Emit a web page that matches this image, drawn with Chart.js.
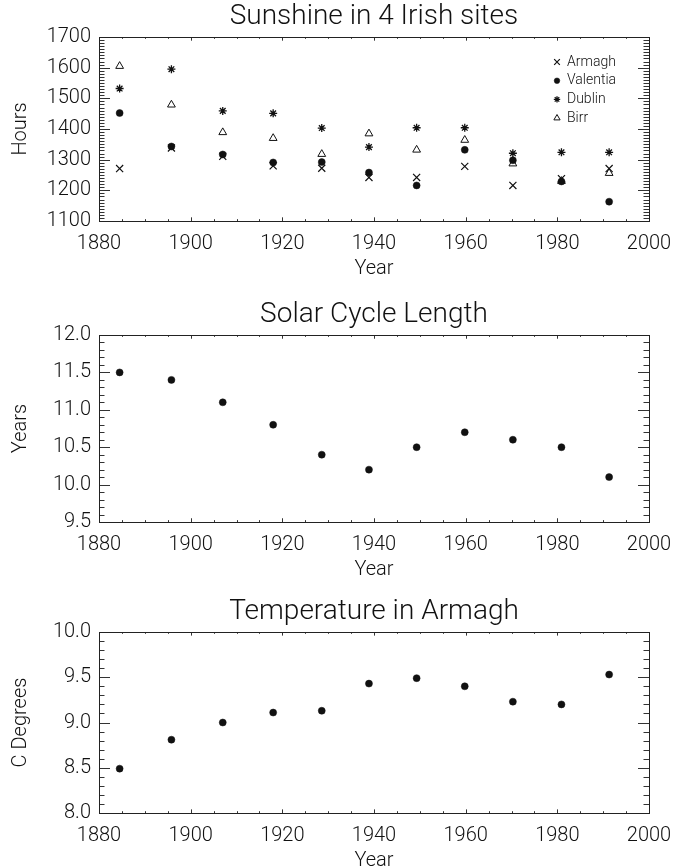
<!DOCTYPE html>
<html>
<head>
<meta charset="utf-8">
<title>Sunshine, solar cycle length and temperature</title>
<script src="https://cdn.jsdelivr.net/npm/chart.js@4"></script>
<style>
  body { margin: 0; background: #fff; width: 676px; height: 867px; overflow: hidden; position: relative; }
  .panel { position: absolute; left: 0; width: 676px; }
</style>
</head>
<body>
<div class="panel" style="top:0;height:281px"><canvas id="sunshine"></canvas></div>
<div class="panel" style="top:298px;height:284px"><canvas id="cycle"></canvas></div>
<div class="panel" style="top:595px;height:278px"><canvas id="temperature"></canvas></div>
<script>
// epoch midpoints (years) shared by the three panels
const years = [1884.5, 1895.8, 1907.0, 1918.0, 1928.6, 1938.9, 1949.3, 1959.8, 1970.3, 1980.9, 1991.3];

// sunshine hours
const armagh   = [1271, 1338, 1311, 1280, 1272, 1242, 1242, 1278, 1216, 1238, 1271];
const valentia = [1452, 1343, 1317, 1291, 1292, 1258, 1216, 1332, 1298, 1229, 1163];
const dublin   = [1532, 1595, 1459, 1451, 1403, 1341, 1404, 1404, 1321, 1324, 1324];
const birr     = [1605, 1479, 1389, 1370, 1318, 1385, 1332, 1364, 1287, 1230, 1256];

// solar cycle length (years) and Armagh temperature (C)
const cycleLength = [11.5, 11.4, 11.1, 10.8, 10.4, 10.2, 10.5, 10.7, 10.6, 10.5, 10.1];
const armaghTemp  = [8.49, 8.81, 9.00, 9.11, 9.13, 9.43, 9.49, 9.40, 9.23, 9.20, 9.53];

// tick labels
const yearTicks  = [1880, 1900, 1920, 1940, 1960, 1980, 2000];
const hoursTicks = [1100, 1200, 1300, 1400, 1500, 1600, 1700];
const cycleTicks = [9.5, 10.0, 10.5, 11.0, 11.5, 12.0];
const tempTicks  = [8.0, 8.5, 9.0, 9.5, 10.0];

const INK = "#111";
const FONT = "Roboto, 'DejaVu Sans', sans-serif";

// frame with inward major/minor ticks on all four sides (IDL style)
function boxPlugin(xMinor, yMinor) {
    return {
        id: "idlBox",
        afterDraw(chart) {
            const ctx = chart.ctx;
            const a = chart.chartArea;
            const x = chart.scales.x, y = chart.scales.y;
            const xLen = (a.bottom - a.top) * 0.02;
            const yLen = (a.right - a.left) * 0.02;
            const yMajor = y.ticks.map(t => t.value);
            const isMajor = (list, v) => list.some(t => Math.abs(t - v) < 1e-6);
            ctx.save();
            ctx.strokeStyle = "#333";
            ctx.lineWidth = 1;
            ctx.beginPath();
            const nx = Math.round((x.max - x.min) / xMinor);
            for (let i = 0; i <= nx; i++) {
                const v = x.min + i * xMinor;
                const len = isMajor(yearTicks, v) ? xLen : xLen / 2;
                const px = Math.round(x.getPixelForValue(v)) + 0.5;
                ctx.moveTo(px, a.bottom); ctx.lineTo(px, a.bottom - len);
                ctx.moveTo(px, a.top); ctx.lineTo(px, a.top + len);
            }
            const ny = Math.round((y.max - y.min) / yMinor);
            for (let i = 0; i <= ny; i++) {
                const v = y.min + i * yMinor;
                const len = isMajor(yMajor, v) ? yLen : yLen / 2;
                const py = Math.round(y.getPixelForValue(v)) + 0.5;
                ctx.moveTo(a.left, py); ctx.lineTo(a.left + len, py);
                ctx.moveTo(a.right, py); ctx.lineTo(a.right - len, py);
            }
            ctx.stroke();
            ctx.strokeStyle = "#222";
            ctx.strokeRect(Math.round(a.left) + 0.5, Math.round(a.top) + 0.5,
                Math.round(a.right - a.left), Math.round(a.bottom - a.top));
            ctx.restore();
        }
    };
}

// small legend in the upper right corner of the plot
const legendPlugin = {
    id: "idlLegend",
    afterDatasetsDraw(chart, args, opts) {
        if (!opts.show) return;
        const { ctx, chartArea: a } = chart;
        ctx.save();
        ctx.font = "300 14px " + FONT;
        ctx.textBaseline = "middle";
        chart.data.datasets.forEach((ds, i) => {
            const px = a.right - 92, py = a.top + 25 + i * 18.7;
            ctx.fillStyle = ds.backgroundColor;
            ctx.strokeStyle = ds.borderColor;
            ctx.lineWidth = ds.borderWidth;
            Chart.helpers.drawPoint(ctx, {
                pointStyle: ds.pointStyle,
                radius: ds.pointRadius * 0.8,
                rotation: 0,
                borderWidth: ds.borderWidth
            }, px, py);
            ctx.fillStyle = INK;
            ctx.fillText(ds.label, px + 10, py);
        });
        ctx.restore();
    }
};

function makePanel(id, title, yTitle, yTicks, yMin, yMax, yMinor, decimals, datasets, legend) {
    new Chart(document.getElementById(id), {
        type: "scatter",
        data: { datasets: datasets },
        plugins: [boxPlugin(5, yMinor), legendPlugin],
        options: {
            responsive: true,
            maintainAspectRatio: false,
            animation: false,
            layout: { padding: { left: 0, right: 27, top: 0, bottom: 0 } },
            plugins: {
                legend: { display: false },
                tooltip: { enabled: false },
                title: {
                    display: true,
                    fullSize: false,
                    text: title,
                    color: INK,
                    font: { family: FONT, size: 28, weight: 300 },
                    padding: { top: 0, bottom: 3.4 }
                },
                idlLegend: { show: legend }
            },
            scales: {
                x: {
                    type: "linear",
                    min: 1880,
                    max: 2000,
                    afterBuildTicks: s => { s.ticks = yearTicks.map(v => ({ value: v })); },
                    afterFit: s => { s.height = 60; s.paddingLeft = 0; s.paddingRight = 0; },
                    grid: { display: false, drawTicks: false },
                    border: { display: false },
                    ticks: {
                        color: INK, padding: 11, maxRotation: 0,
                        font: { family: FONT, size: 20, weight: 300 },
                        callback: v => String(v)
                    },
                    title: { display: true, text: "Year", color: INK, padding: 0, font: { family: FONT, size: 20, weight: 300 } }
                },
                y: {
                    type: "linear",
                    min: yMin,
                    max: yMax,
                    afterBuildTicks: s => { s.ticks = yTicks.map(v => ({ value: v })); },
                    afterFit: s => { s.width = 99; s.paddingTop = 0; s.paddingBottom = 0; },
                    grid: { display: false, drawTicks: false },
                    border: { display: false },
                    ticks: {
                        color: INK, padding: 8,
                        font: { family: FONT, size: 20, weight: 300 },
                        callback: v => v.toFixed(decimals)
                    },
                    title: { display: true, text: yTitle, color: INK, padding: { top: 9, bottom: 0 }, font: { family: FONT, size: 20, weight: 300 } }
                }
            }
        }
    });
}

function series(label, ys, style, radius, width, fill) {
    return {
        label: label,
        data: years.map((yr, i) => ({ x: yr, y: ys[i] })),
        pointStyle: style,
        pointRadius: radius,
        borderWidth: width,
        borderColor: INK,
        backgroundColor: fill,
        showLine: false
    };
}

makePanel("sunshine", "Sunshine in 4 Irish sites", "Hours", hoursTicks, 1100, 1700, 10, 0, [
    series("Armagh", armagh, "crossRot", 5, 1.2, INK),
    series("Valentia", valentia, "circle", 3.5, 0.5, INK),
    series("Dublin", dublin, "star", 4, 1.3, INK),
    series("Birr", birr, "triangle", 4.5, 1, "rgba(0,0,0,0)")
], true);

makePanel("cycle", "Solar Cycle Length", "Years", cycleTicks, 9.5, 12.0, 0.1, 1, [
    series("Solar cycle length", cycleLength, "circle", 3.5, 0.5, INK)
], false);

makePanel("temperature", "Temperature in Armagh", "C Degrees", tempTicks, 8.0, 10.0, 0.1, 1, [
    series("Temperature", armaghTemp, "circle", 3.5, 0.5, INK)
], false);
</script>
</body>
</html>
